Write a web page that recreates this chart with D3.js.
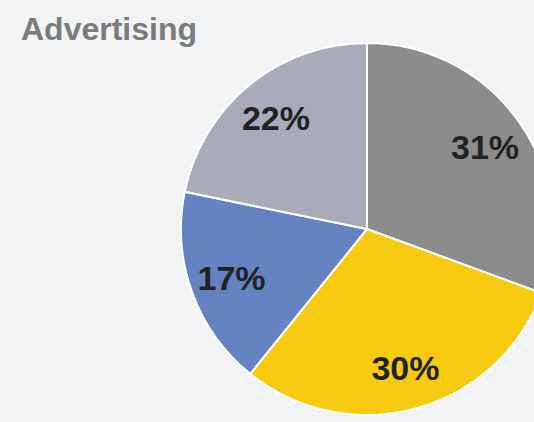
<!DOCTYPE html>
<html>
<head>
<meta charset="utf-8">
<script src="https://cdn.jsdelivr.net/npm/d3@7"></script>
<style>
  html, body { margin: 0; padding: 0; background: #f2f3f5; }
  svg { display: block; }
</style>
</head>
<body>
<svg id="chart" width="534" height="422"></svg>
<script>
const title = "Advertising";
const categories = ["A", "B", "C", "D"];
const values = [30.6, 30.2, 17.4, 21.8];
const labels = ["31%", "30%", "17%", "22%"];
const colors = ["#8c8c8c", "#f7ca12", "#6583c1", "#a9abbb"];

const W = 534, H = 422;
const cx = 367, cy = 229, R = 186;

const svg = d3.select("#chart");
svg.append("rect").attr("width", W).attr("height", H).attr("fill", "#f2f3f5");

svg.append("text")
  .attr("x", 21).attr("y", 40)
  .attr("font-family", "Liberation Sans, Arial, Helvetica, sans-serif")
  .attr("font-weight", "bold")
  .attr("font-size", 32)
  .attr("fill", "#7b7b7b")
  .text(title);

const pie = d3.pie().sort(null).value(d => d)(values);
const arc = d3.arc().innerRadius(0).outerRadius(R);
const labelArc = d3.arc().innerRadius(144).outerRadius(144);

const g = svg.append("g").attr("transform", `translate(${cx},${cy})`);

g.selectAll("path.slice")
  .data(pie)
  .join("path")
  .attr("class", "slice")
  .attr("d", arc)
  .attr("fill", (d, i) => colors[i])
  .attr("stroke", "#ffffff")
  .attr("stroke-width", 2)
  .attr("stroke-linejoin", "round");

g.selectAll("text.lbl")
  .data(pie)
  .join("text")
  .attr("class", "lbl")
  .attr("transform", d => `translate(${labelArc.centroid(d)})`)
  .attr("text-anchor", "middle")
  .attr("dy", "0.36em")
  .attr("font-family", "Liberation Sans, Arial, Helvetica, sans-serif")
  .attr("font-weight", "bold")
  .attr("font-size", 34)
  .attr("fill", "#222222")
  .text((d, i) => labels[i]);
</script>
</body>
</html>
